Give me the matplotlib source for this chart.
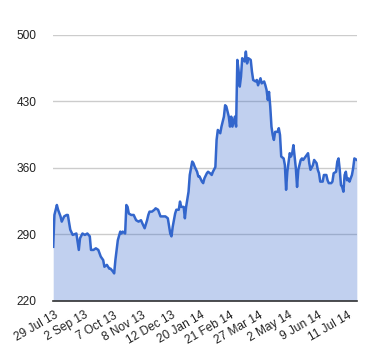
import matplotlib
matplotlib.use("Agg")
import matplotlib.pyplot as plt

# trading-day index and closing value
day = [0, 1, 3, 4, 6, 7, 9, 11, 12, 14, 16, 19, 20, 21, 22, 24, 26, 28, 30, 31,
       33, 35, 37, 39, 41, 42, 44, 46, 47, 49, 50, 51, 53, 55, 56, 57, 59, 60, 61, 62,
       64, 66, 68, 70, 72, 73, 75, 77, 78, 79, 81, 83, 84, 86, 88, 90, 92, 94, 96, 97,
       98, 100, 101, 103, 104, 105, 107, 108, 109, 111, 112, 114, 115, 116, 118, 119, 120, 122, 123, 124,
       126, 127, 129, 130, 131, 133, 134, 135, 137, 138, 140, 141, 142, 144, 145, 146, 147, 149, 150, 151,
       152, 153, 154, 155, 157, 158, 159, 160, 162, 163, 164, 166, 167, 168, 170, 171, 173, 174, 175, 176,
       177, 178, 179, 180, 181, 182, 184, 185, 186, 187, 189, 190, 191, 192, 194, 195, 196, 197, 198, 199,
       200, 201, 203, 204, 205, 207, 209, 210, 211, 213, 214, 216, 217, 218, 219, 221, 222, 224, 225, 226,
       228, 229, 230, 232, 233, 234, 235, 236, 237, 238, 239, 240, 241, 242, 243, 245, 246, 247, 249]
price = [277, 310.5, 321, 316, 309, 303.5, 309, 310.5, 310.5, 295, 289.5, 291, 282.5, 273.7, 286, 291, 289.5, 291, 288, 273.7,
         273.7, 275.4, 273.7, 266.7, 263, 256, 258, 254, 254, 251, 249, 263, 284, 293, 291, 293, 291, 321, 319, 312,
         310.5, 310.5, 305, 303.5, 305, 302, 296.5, 305, 310.5, 314, 314, 316, 317.5, 316, 309, 309, 309, 307, 291, 288,
         298, 312, 316, 316, 324.6, 319, 319, 307, 319, 335, 352.6, 366.7, 365, 361.4, 356, 351, 351, 345.6, 344, 349,
         354.4, 356, 354, 352.6, 356, 361, 389.5, 400, 396.5, 403.5, 414, 426, 424.6, 414, 403.5, 414, 403.5, 414, 403.5, 473.7,
         463, 445.6, 456, 475.5, 472, 482.5, 470, 475.5, 473.7, 461.4, 452.6, 451, 452.6, 447, 454.4, 449, 451, 447, 442, 431.6,
         440, 424.6, 403.5, 394.7, 389.5, 398, 398, 401.8, 394.7, 372, 370, 363, 337, 356, 375.5, 372, 375.5, 384, 372, 359.7,
         340, 358, 368.4, 370, 368.4, 372, 375.5, 365, 358, 363, 368.4, 365, 358, 354.4, 345.6, 345.6, 352.6, 352.6, 347, 344,
         344, 345.6, 354.4, 356, 366.7, 370, 358, 342, 340, 335, 352.6, 356, 347, 349, 345.6, 352.6, 359.7, 370, 368.4]

tick_days = [1, 25, 49, 73, 97, 121, 145, 169, 193, 217, 241]
tick_labels = ["29 Jul 13", "2 Sep 13", "7 Oct 13", "8 Nov 13", "12 Dec 13", "20 Jan 14",
               "21 Feb 14", "27 Mar 14", "2 May 14", "9 Jun 14", "11 Jul 14"]
y_ticks = [220, 290, 360, 430, 500]

plt.rcParams["font.family"] = ["Liberation Sans", "DejaVu Sans"]

fig = plt.figure(figsize=(3.8, 3.6), dpi=100)
ax = fig.add_axes([0.140, 0.164, 0.799, 0.739])

ax.fill_between(day, price, 220, color="#3366cc", alpha=0.3, linewidth=0)
ax.plot(day, price, color="#3366cc", linewidth=1.8, solid_joinstyle="round")

ax.set_xlim(0, 249)
ax.set_ylim(220, 500)
ax.set_yticks(y_ticks)
ax.set_xticks(tick_days)
ax.set_xticklabels(tick_labels, rotation=30, ha="right", va="top", rotation_mode="anchor")

ax.grid(axis="y", color="#cccccc", linewidth=1)
ax.set_axisbelow(True)
for s in ["top", "right", "left"]:
    ax.spines[s].set_visible(False)
ax.spines["bottom"].set_color("#333333")
ax.spines["bottom"].set_linewidth(1.2)

ax.tick_params(axis="y", length=0, pad=12, labelsize=8.6, labelcolor="#222222")
ax.tick_params(axis="x", length=0, pad=6, labelsize=8.6, labelcolor="#222222")

fig.savefig("out.png", dpi=100)
